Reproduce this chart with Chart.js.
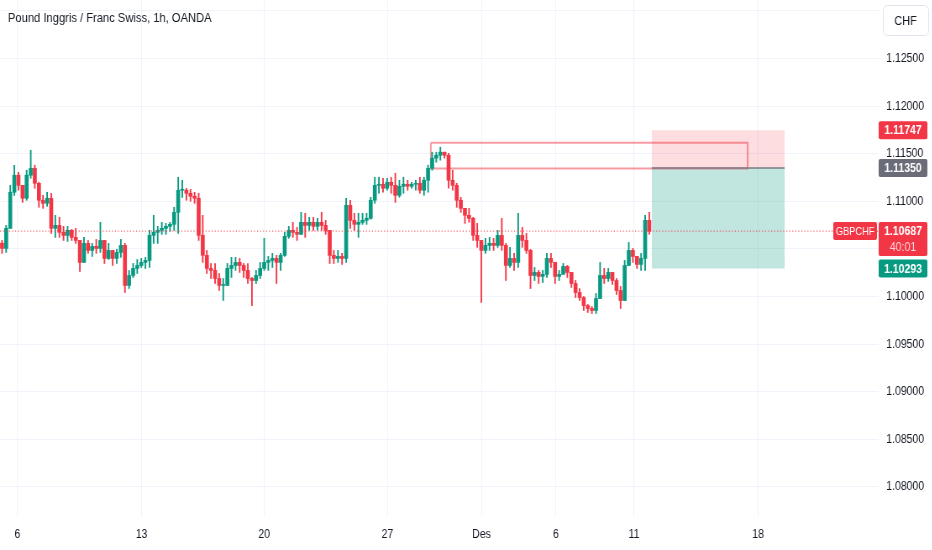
<!DOCTYPE html>
<html>
<head>
<meta charset="utf-8">
<script src="https://cdn.jsdelivr.net/npm/chart.js@4.4.0/dist/chart.umd.min.js"></script>
<style>
html, body { margin: 0; padding: 0; background: #ffffff; overflow: hidden; }
#wrap { width: 1110px; height: 550px; transform: scaleX(0.84); transform-origin: 0 0; }
canvas { display: block; }
</style>
</head>
<body>
<div id="wrap"><canvas id="myChart" width="1110" height="550"></canvas></div>
<script>
const chartTitle = "Pound Inggris / Franc Swiss, 1h, OANDA";
const fontFamily = '"Liberation Sans", Arial, sans-serif';
const upColor = "#089981";
const downColor = "#f23645";

// 4-hour candles
const firstOpen = 1.10560;
const highs = [
    1.10589, 1.10747, 1.11168, 1.11379, 1.11305, 1.11168, 1.11326, 1.11537, 1.11379, 1.11200,
    1.11063, 1.11095, 1.11084, 1.10853, 1.10832, 1.10737, 1.10737, 1.10705, 1.10716, 1.10589,
    1.10621, 1.10589, 1.10558, 1.10600, 1.10779, 1.10589, 1.10558, 1.10484, 1.10495, 1.10600,
    1.10558, 1.10274, 1.10347, 1.10389, 1.10400, 1.10411, 1.10695, 1.10853, 1.10737, 1.10779,
    1.10768, 1.10779, 1.10937, 1.11253, 1.11221, 1.11137, 1.11126, 1.11095, 1.11084, 1.10853,
    1.10484, 1.10347, 1.10347, 1.10242, 1.10189, 1.10347, 1.10411, 1.10411, 1.10400, 1.10347,
    1.10347, 1.10200, 1.10274, 1.10358, 1.10611, 1.10421, 1.10453, 1.10432, 1.10453, 1.10674,
    1.10737, 1.10779, 1.10726, 1.10884, 1.10874, 1.10832, 1.10832, 1.10821, 1.10884, 1.10800,
    1.10695, 1.10484, 1.10484, 1.10453, 1.11032, 1.11011, 1.10874, 1.10874, 1.10874, 1.10874,
    1.11042, 1.11253, 1.11253, 1.11242, 1.11242, 1.11253, 1.11295, 1.11221, 1.11253, 1.11221,
    1.11200, 1.11221, 1.11253, 1.11253, 1.11379, 1.11516, 1.11516, 1.11568, 1.11516, 1.11505,
    1.11326, 1.11189, 1.11042, 1.10926, 1.10926, 1.10832, 1.10768, 1.10589, 1.10611, 1.10621,
    1.10611, 1.10695, 1.10821, 1.10558, 1.10516, 1.10453, 1.10874, 1.10726, 1.10663, 1.10495,
    1.10305, 1.10274, 1.10274, 1.10453, 1.10453, 1.10358, 1.10274, 1.10347, 1.10326, 1.10253,
    1.10168, 1.10084, 1.10000, 1.09916, 1.09895, 1.10032, 1.10358, 1.10295, 1.10295, 1.10253,
    1.10189, 1.10105, 1.10379, 1.10568, 1.10505, 1.10421, 1.10453, 1.10853, 1.10884
];
const lows = [
    1.10453, 1.10463, 1.10716, 1.11063, 1.11116, 1.10989, 1.11011, 1.11242, 1.11137, 1.10937,
    1.10926, 1.10947, 1.10663, 1.10621, 1.10621, 1.10589, 1.10579, 1.10589, 1.10558, 1.10263,
    1.10358, 1.10453, 1.10421, 1.10453, 1.10463, 1.10347, 1.10389, 1.10326, 1.10347, 1.10411,
    1.10042, 1.10084, 1.10200, 1.10242, 1.10305, 1.10295, 1.10305, 1.10558, 1.10558, 1.10653,
    1.10653, 1.10684, 1.10695, 1.10663, 1.11042, 1.11011, 1.11000, 1.10979, 1.10589, 1.10358,
    1.10242, 1.10189, 1.10137, 1.10063, 1.09958, 1.10116, 1.10200, 1.10274, 1.10253, 1.10200,
    1.10137, 1.09905, 1.10137, 1.10189, 1.10274, 1.10274, 1.10305, 1.10137, 1.10274, 1.10421,
    1.10611, 1.10621, 1.10589, 1.10653, 1.10621, 1.10695, 1.10695, 1.10695, 1.10695, 1.10653,
    1.10347, 1.10347, 1.10358, 1.10337, 1.10358, 1.10716, 1.10695, 1.10621, 1.10758, 1.10758,
    1.10811, 1.10979, 1.11084, 1.11095, 1.11116, 1.11084, 1.10989, 1.11042, 1.11084, 1.11116,
    1.11137, 1.11116, 1.11084, 1.11063, 1.11095, 1.11326, 1.11411, 1.11432, 1.11453, 1.11137,
    1.11116, 1.10937, 1.10884, 1.10768, 1.10779, 1.10589, 1.10516, 1.09937, 1.10453, 1.10484,
    1.10484, 1.10516, 1.10484, 1.10168, 1.10305, 1.10274, 1.10305, 1.10516, 1.10453, 1.10084,
    1.10168, 1.10137, 1.10147, 1.10200, 1.10305, 1.10137, 1.10168, 1.10242, 1.10200, 1.10095,
    1.09989, 1.09958, 1.09853, 1.09832, 1.09821, 1.09821, 1.09979, 1.10137, 1.10158, 1.10126,
    1.10021, 1.09874, 1.09958, 1.10326, 1.10358, 1.10295, 1.10274, 1.10274, 1.10653
];
const closes = [
    1.10505, 1.10716, 1.11095, 1.11274, 1.11168, 1.11032, 1.11274, 1.11347, 1.11189, 1.11011,
    1.10979, 1.11032, 1.10716, 1.10747, 1.10674, 1.10642, 1.10695, 1.10621, 1.10589, 1.10358,
    1.10558, 1.10484, 1.10526, 1.10505, 1.10589, 1.10400, 1.10484, 1.10400, 1.10463, 1.10537,
    1.10116, 1.10221, 1.10295, 1.10326, 1.10358, 1.10379, 1.10642, 1.10674, 1.10695, 1.10716,
    1.10737, 1.10758, 1.10884, 1.11116, 1.11116, 1.11084, 1.11053, 1.11032, 1.10642, 1.10432,
    1.10295, 1.10274, 1.10189, 1.10116, 1.10116, 1.10295, 1.10326, 1.10358, 1.10326, 1.10274,
    1.10189, 1.10168, 1.10221, 1.10295, 1.10358, 1.10379, 1.10400, 1.10358, 1.10432, 1.10632,
    1.10695, 1.10674, 1.10653, 1.10779, 1.10747, 1.10779, 1.10737, 1.10779, 1.10747, 1.10695,
    1.10432, 1.10400, 1.10421, 1.10400, 1.10958, 1.10800, 1.10758, 1.10779, 1.10800, 1.10821,
    1.11011, 1.11168, 1.11179, 1.11137, 1.11200, 1.11168, 1.11063, 1.11158, 1.11179, 1.11158,
    1.11179, 1.11189, 1.11116, 1.11221, 1.11347, 1.11453, 1.11484, 1.11516, 1.11484, 1.11221,
    1.11168, 1.11011, 1.10926, 1.10853, 1.10821, 1.10642, 1.10589, 1.10484, 1.10537, 1.10558,
    1.10537, 1.10642, 1.10537, 1.10326, 1.10400, 1.10358, 1.10642, 1.10589, 1.10484, 1.10221,
    1.10253, 1.10211, 1.10232, 1.10400, 1.10358, 1.10211, 1.10232, 1.10316, 1.10253, 1.10137,
    1.10042, 1.09989, 1.09905, 1.09874, 1.09853, 1.09979, 1.10221, 1.10189, 1.10253, 1.10168,
    1.10063, 1.09958, 1.10326, 1.10484, 1.10421, 1.10337, 1.10400, 1.10800, 1.10687
];

// time axis in hours (weekends removed), tick labels
const dayTicks = [16.9, 138.3, 258.0, 378.4, 470.2, 542.7, 619.1, 740.2];
const dayLabels = ["6", "13", "20", "27", "Des", "6", "11", "18"];
const priceTicks = [1.080, 1.085, 1.090, 1.095, 1.100, 1.105, 1.110, 1.115, 1.120, 1.125, 1.130];

// drawings
const lastPrice = 1.10687;
const lastTimer = "40:01";
const stopPrice = 1.11747;
const entryPrice = 1.11350;
const targetPrice = 1.10293;
const positionFrom = 636.4;
const positionTo = 766.2;
const zoneTop = 1.11614;
const zoneBottom = 1.11345;
const zoneFrom = 420.7;
const zoneTo = 730.1;

const opens = closes.map((c, i) => i === 0 ? firstOpen : closes[i - 1]);
const candleHours = closes.map((c, i) => i * 4 + 2);

function candleColor(i)
{
    return closes[i] >= opens[i] ? upColor : downColor;
}

function drawTag(ctx, x, y, w, h, text, bg)
{
    ctx.fillStyle = bg;
    ctx.beginPath();
    ctx.roundRect(x, y, w, h, 2);
    ctx.fill();
    ctx.fillStyle = "#ffffff";
    ctx.textAlign = "center";
    ctx.textBaseline = "middle";
    ctx.fillText(text, x + w / 2, y + h / 2 + 0.5);
}

const overlayPlugin = {
    id: 'overlay',
    afterDraw(chart)
    {
        const ctx = chart.ctx;
        const area = chart.chartArea;
        const y = chart.scales.y;
        ctx.save();

        ctx.font = '13.3px ' + fontFamily;
        ctx.fillStyle = "#131722";
        ctx.textAlign = "left";
        ctx.textBaseline = "middle";
        ctx.fillText(chartTitle, 9.5, 18);

        // CHF currency button
        ctx.fillStyle = "#ffffff";
        ctx.strokeStyle = "#e0e3eb";
        ctx.lineWidth = 1;
        ctx.beginPath();
        ctx.roundRect(1051.5, 5.5, 54, 30, 5);
        ctx.fill();
        ctx.stroke();
        ctx.fillStyle = "#131722";
        ctx.textAlign = "center";
        ctx.font = '13px ' + fontFamily;
        ctx.fillText("CHF", 1078, 21);

        ctx.font = 'bold 12.5px ' + fontFamily;
        const tagX = area.right;
        const tagW = 58;
        drawTag(ctx, tagX, y.getPixelForValue(stopPrice) - 9, tagW, 18, stopPrice.toFixed(5), "#f23645");
        drawTag(ctx, tagX, y.getPixelForValue(entryPrice) - 9, tagW, 18, entryPrice.toFixed(5), "#6a6d78");
        drawTag(ctx, tagX, y.getPixelForValue(targetPrice) - 9, tagW, 18, targetPrice.toFixed(5), "#089981");

        const py = y.getPixelForValue(lastPrice);
        ctx.fillStyle = "#f23645";
        ctx.beginPath();
        ctx.roundRect(tagX, py - 9, tagW, 34, 2);
        ctx.fill();
        ctx.fillStyle = "#ffffff";
        ctx.textAlign = "center";
        ctx.fillText(lastPrice.toFixed(5), tagX + tagW / 2, py + 0.5);
        ctx.font = '12.5px ' + fontFamily;
        ctx.fillStyle = "rgba(255,255,255,0.8)";
        ctx.fillText(lastTimer, tagX + tagW / 2, py + 16);

        ctx.font = '11px ' + fontFamily;
        drawTag(ctx, area.right - 54, py - 9, 52, 18, "GBPCHF", "#f23645");
        ctx.restore();
    }
};

Chart.defaults.font.family = fontFamily;
Chart.defaults.font.size = 12.5;
Chart.defaults.color = "#131722";

const chart = new Chart(document.getElementById("myChart"), {
    type: 'bar',
    data: {
        datasets: [
            {
                type: 'line',
                data: [{ x: 0, y: lastPrice }, { x: 858, y: lastPrice }],
                borderColor: "#f23645",
                borderWidth: 1,
                borderDash: [1.2, 2.4],
                pointRadius: 0,
                fill: false,
                order: 0
            },
            {
                type: 'line',
                data: [{ x: positionFrom, y: entryPrice }, { x: positionTo, y: entryPrice }],
                borderColor: "#787b86",
                borderWidth: 1.5,
                pointRadius: 0,
                fill: false,
                order: 1
            },
            {
                data: closes.map((c, i) => ({ x: candleHours[i], y: [opens[i], c] })),
                backgroundColor: ctx => candleColor(ctx.dataIndex),
                barThickness: 4,
                minBarLength: 1,
                grouped: false,
                order: 2
            },
            {
                data: closes.map((c, i) => ({ x: candleHours[i], y: [lows[i], highs[i]] })),
                backgroundColor: ctx => candleColor(ctx.dataIndex),
                barThickness: 1.2,
                grouped: false,
                order: 3
            },
            {
                type: 'line',
                data: [
                    { x: zoneFrom, y: zoneTop }, { x: zoneTo, y: zoneTop },
                    { x: zoneTo, y: zoneBottom }, { x: zoneFrom, y: zoneBottom },
                    { x: zoneFrom, y: zoneTop }
                ],
                borderColor: "rgba(242,54,69,0.5)",
                borderWidth: 2,
                pointRadius: 0,
                fill: false,
                order: 4
            },
            {
                type: 'line',
                data: [{ x: positionFrom, y: stopPrice }, { x: positionTo, y: stopPrice }],
                borderWidth: 0,
                pointRadius: 0,
                backgroundColor: "rgba(242,54,69,0.17)",
                fill: { value: entryPrice },
                order: 5
            },
            {
                type: 'line',
                data: [{ x: positionFrom, y: targetPrice }, { x: positionTo, y: targetPrice }],
                borderWidth: 0,
                pointRadius: 0,
                backgroundColor: "rgba(8,153,129,0.25)",
                fill: { value: entryPrice },
                order: 6
            }
        ]
    },
    options: {
        responsive: false,
        animation: false,
        layout: { padding: 0 },
        plugins: {
            legend: { display: false },
            tooltip: { enabled: false }
        },
        scales: {
            x: {
                type: 'linear',
                min: 0,
                max: 858,
                offset: false,
                afterBuildTicks: axis => { axis.ticks = dayTicks.map(v => ({ value: v })); },
                afterFit: axis => { axis.height = 33; axis.paddingLeft = 0; axis.paddingRight = 0; },
                ticks: {
                    autoSkip: false,
                    maxRotation: 0,
                    padding: 10,
                    callback: (value, index) => dayLabels[index]
                },
                grid: { color: "#f0f3fa", drawTicks: false, offset: false },
                border: { display: false }
            },
            y: {
                position: 'right',
                min: 1.076838,
                max: 1.131145,
                afterBuildTicks: axis => { axis.ticks = priceTicks.map(v => ({ value: v })); },
                afterFit: axis => { axis.width = 64; axis.paddingTop = 0; axis.paddingBottom = 0; },
                ticks: {
                    padding: 9,
                    callback: value => value > 1.1299 ? '' : value.toFixed(5)
                },
                grid: { color: "#f0f3fa", drawTicks: false },
                border: { display: false }
            }
        }
    },
    plugins: [overlayPlugin]
});
</script>
</body>
</html>
